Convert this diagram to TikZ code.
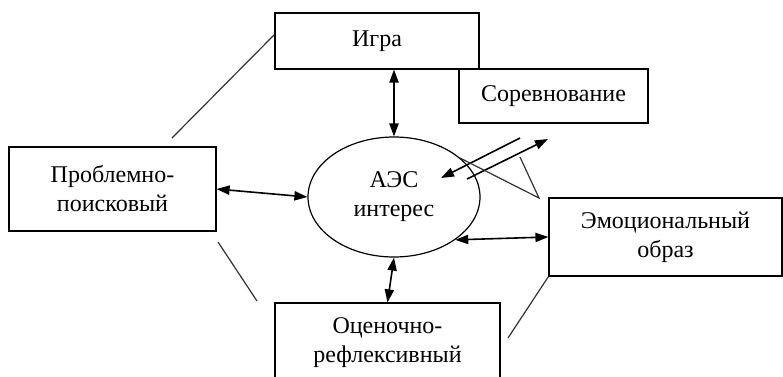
\documentclass[tikz,border=0pt]{standalone}
\usepackage{fontspec}
\setmainfont{Liberation Serif}
\usetikzlibrary{arrows.meta,shapes.geometric}

\begin{document}
\begin{tikzpicture}[x=0.5pt, y=-0.5pt,
    every node/.style={font=\fontsize{12}{14.5}\selectfont},
    box/.style={draw, line width=0.6pt, fill=white, align=center, inner sep=0pt},
    dblarrow/.style={{Triangle[length=6.5pt,width=4.6pt]}-{Triangle[length=6.5pt,width=4.6pt]}, line width=0.8pt},
    onearrow/.style={-{Triangle[length=6.5pt,width=4.6pt]}, line width=0.8pt},
    thin line/.style={line width=0.6pt, black!80}]
            \useasboundingbox (0,0) rectangle (783,376);

            % Draw the boxes
            \node[box, minimum width=102pt, minimum height=28pt] (igra) at (377,41) {Игра};
            \node[box, minimum width=94.5pt, minimum height=27pt] (sorev) at (553.5,96) {Соревнование};
            \node[box, minimum width=103.5pt, minimum height=42pt] (prob) at (112.5,189) {Проблемно-\\поисковый};
            \node[box, minimum width=116.5pt, minimum height=39pt] (emo) at (665.5,237) {Эмоциональный\\образ};
            \node[box, minimum width=112.5pt, minimum height=40pt] (ocen) at (387.5,343) {Оценочно-\\рефлексивный};

            % Draw the ellipse in the middle
            \node[ellipse, draw, line width=0.6pt, minimum width=86pt, minimum height=60pt, align=center, inner sep=0pt] (aes) at (394,197) {АЭС\\интерес};

            % Draw the arrows to the ellipse
            \draw[dblarrow] (aes.north |- igra.south) -- (aes.north);
            \draw[dblarrow] (prob.east) -- (aes.west);
            \draw[dblarrow] (aes.south east) -- (emo.west);
            \draw[dblarrow] (aes.south) -- (ocen.north);

            % Draw the crossed arrows under the second box
            \coordinate (a1) at (520,138);
            \coordinate (a2) at (441,178);
            \coordinate (b1) at (467,179);
            \coordinate (b2) at (548,139);
            \draw[onearrow] (a1) -- (a2);
            \draw[onearrow] (b1) -- (b2);

            % Draw the triangle
            \coordinate (t1) at (460,158);
            \coordinate (t2) at (539,198);
            \coordinate (t3) at (520,157);
            \draw[thin line] (t1) -- (t2) -- (t3);

            % Draw the lines between the boxes
            \coordinate (l1) at (172,138);
            \coordinate (l2) at (274,35);
            \coordinate (l3) at (218,242);
            \coordinate (l4) at (257,301);
            \coordinate (l5) at (508,338);
            \draw[thin line] (l1) -- (l2);
            \draw[thin line] (l3) -- (l4);
            \draw[thin line] (l5) -- (emo.south west);

\end{tikzpicture}
\end{document}
